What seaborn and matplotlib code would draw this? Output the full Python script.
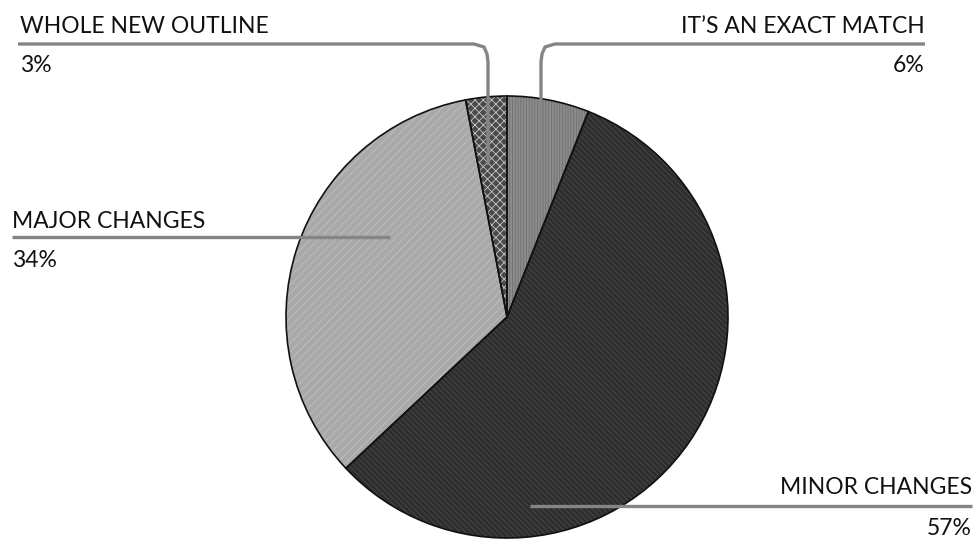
import matplotlib.pyplot as plt
import seaborn as sns

# data
labels = ["IT\u2019S AN EXACT MATCH", "MINOR CHANGES", "MAJOR CHANGES", "WHOLE NEW OUTLINE"]
shares = [6, 57, 34, 3]
pct_text = ["6%", "57%", "34%", "3%"]

# look
FACE = ["#8c8c8c", "#2e2e2e", "#a9a9a9", "#4a4a4a"]
HATCH = ["||||||", "\\\\\\\\\\\\", "////", "xxxx"]
HATCH_COL = ["#707070", "#4a4a4a", "#c0c0c0", "#c8c8c8"]
LINE_COL = "#858585"

W, H = 977, 546
CX, CY, R = 507, 317, 221  # pie centre / radius in pixels

sns.set_theme(style="white")
plt.rcParams["font.family"] = ["Lato", "DejaVu Sans"]
plt.rcParams["hatch.linewidth"] = 0.6

fig = plt.figure(figsize=(W / 100, H / 100), dpi=100)
ax = fig.add_axes([0, 0, 1, 1])
ax.axis("off")


def px(x, y):
    # pixel (top-left origin) -> data coords
    return (x - CX) / R, (CY - y) / R


pie_kw = dict(startangle=90, counterclock=False, radius=1.0)
ax.pie(shares, colors=FACE, wedgeprops=dict(linewidth=0), **pie_kw)
wedges, _ = ax.pie(shares, wedgeprops=dict(facecolor="none", linewidth=0), **pie_kw)
for w, h, c in zip(wedges, HATCH, HATCH_COL):
    w.set_hatch(h)
    w.set_edgecolor(c)
ax.pie(shares, wedgeprops=dict(facecolor="none", edgecolor="#111111", linewidth=1.2), **pie_kw)
ax.set_aspect("equal")
ax.set_xlim(-CX / R, (W - CX) / R)
ax.set_ylim(-(H - CY) / R, CY / R)

# leader lines
leaders = [
    [(925, 44), (555, 44), (545, 47), (542, 54), (541, 62), (541, 165)],
    [(972, 506), (530, 506)],
    [(12, 237), (390, 237)],
    [(18, 44), (474, 44), (484, 47), (487, 54), (488, 62), (488, 165)],
]
for pts in leaders:
    xs, ys = zip(*[px(*p) for p in pts])
    ax.plot(xs, ys, color=LINE_COL, lw=2.4, solid_joinstyle="round",
            solid_capstyle="butt", zorder=5)

txt_kw = dict(fontsize=16.5, color="#111111")
# (label x, label baseline, pct baseline, ha)
pos = [
    (925, 33, 72, "right"),
    (972, 494, 535, "right"),
    (12, 228, 267, "left"),
    (20, 33, 72, "left"),
]
for lab, pct, (x, yl, yp, ha) in zip(labels, pct_text, pos):
    ax.text(*px(x, yl), lab, ha=ha, va="baseline", **txt_kw)
    ax.text(*px(x, yp), pct, ha=ha, va="baseline", **txt_kw)

fig.savefig("out.png", dpi=100, facecolor="white")
